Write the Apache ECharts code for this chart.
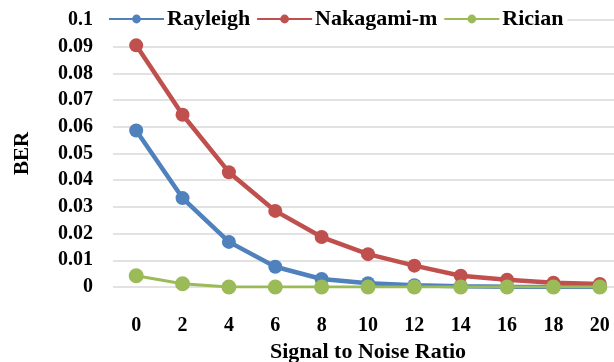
<!DOCTYPE html>
<html>
<head>
<meta charset="utf-8">
<script src="https://cdn.jsdelivr.net/npm/echarts@6/dist/echarts.min.js"></script>
<style>
  html, body { margin: 0; padding: 0; background: #fff; }
  #chart { width: 614px; height: 362px; }
</style>
</head>
<body>
<div id="chart"></div>
<script>
// SNR 数据
var snr = ['0', '2', '4', '6', '8', '10', '12', '14', '16', '18', '20'];
var rayleigh = [0.0586, 0.0333, 0.0169, 0.0076, 0.003, 0.0014, 0.0007, 0.0003, 0.0001, 0, 0];
var nakagami = [0.0905, 0.0645, 0.0430, 0.0285, 0.0187, 0.0123, 0.0080, 0.0042, 0.0027, 0.0016, 0.0011];
var rician = [0.0042, 0.0012, 0, 0, 0, 0, 0, 0, 0, 0, 0];

var myChart = echarts.init(document.getElementById('chart'));
var font = 'Liberation Serif';

var option = {
    animation: false,
    textStyle: { fontFamily: font },
    legend: {
        left: 108,
        top: 7,
        itemWidth: 55,
        itemHeight: 11,
        itemGap: 6,
        backgroundColor: '#fff',
        padding: [1, 4, 1, 0],
        textStyle: { fontFamily: font, fontWeight: 'bold', fontSize: 22, color: '#000', padding: [0, 0, 0, -2] },
        data: ['Rayleigh', 'Nakagami-m', 'Rician']
    },
    grid: { left: 113, top: 20, width: 510, height: 267, outerBoundsMode: 'none' },
    xAxis: {
        type: 'category',
        data: snr,
        boundaryGap: true,
        name: 'Signal to Noise Ratio',
        nameLocation: 'middle',
        nameGap: 52,
        nameTextStyle: { fontFamily: font, fontWeight: 'bold', fontSize: 22, color: '#000' },
        axisLine: { show: false },
        axisTick: { show: false },
        axisLabel: { margin: 29, fontFamily: font, fontWeight: 'bold', fontSize: 20, color: '#000' }
    },
    yAxis: {
        type: 'value',
        min: 0,
        max: 0.1,
        interval: 0.01,
        name: 'BER',
        nameLocation: 'middle',
        nameGap: 80,
        nameTextStyle: { fontFamily: font, fontWeight: 'bold', fontSize: 21, color: '#000' },
        axisLine: { show: false },
        axisTick: { show: false },
        axisLabel: { margin: 20, fontFamily: font, fontWeight: 'bold', fontSize: 20, color: '#000' },
        splitLine: { lineStyle: { color: '#d9d9d9', width: 1.5 } }
    },
    series: [
        {
            name: 'Rayleigh',
            type: 'line',
            data: rayleigh,
            color: '#4f81bd',
            symbol: 'circle',
            symbolSize: 14,
            lineStyle: { width: 4.5 }
        },
        {
            name: 'Nakagami-m',
            type: 'line',
            data: nakagami,
            color: '#c0504d',
            symbol: 'circle',
            symbolSize: 14,
            lineStyle: { width: 4.5 }
        },
        {
            name: 'Rician',
            type: 'line',
            data: rician,
            color: '#9bbb59',
            symbol: 'circle',
            symbolSize: 15,
            lineStyle: { width: 3 }
        }
    ]
};
myChart.setOption(option);
</script>
</body>
</html>
